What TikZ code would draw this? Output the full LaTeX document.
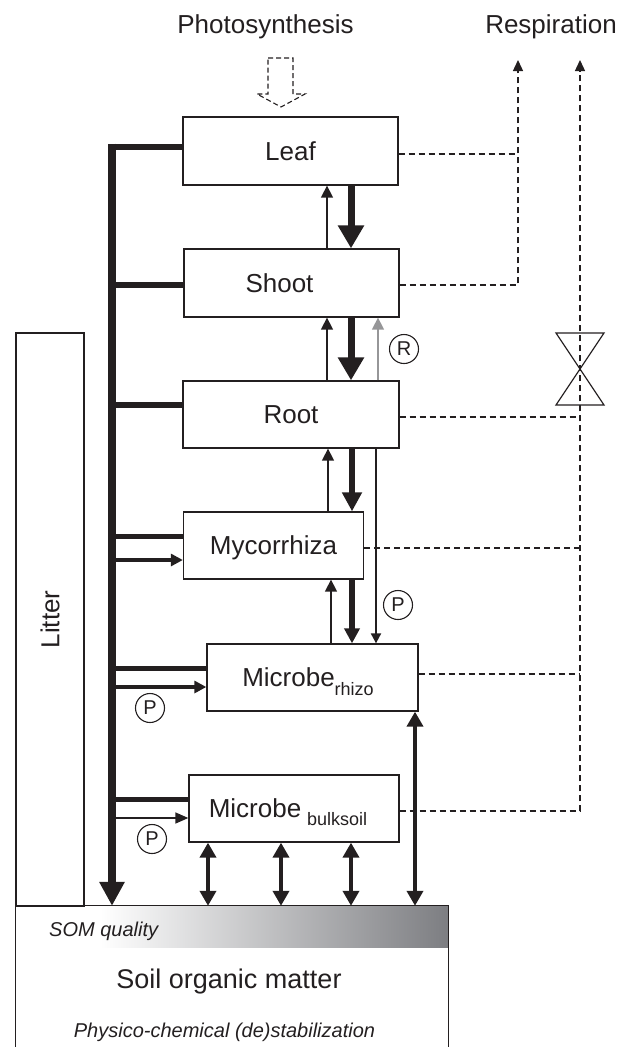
\documentclass[tikz,border=0pt]{standalone}
\usepackage{fontspec}
\setmainfont{Liberation Sans}
\usetikzlibrary{arrows.meta}
\definecolor{ink}{RGB}{35,31,32}
\definecolor{somgray}{RGB}{125,126,130}
\definecolor{rgray}{RGB}{150,150,152}
\begin{document}
\begin{tikzpicture}[x=1pt,y=-1pt,
  box/.style={draw=ink,line width=1.3pt,inner sep=0pt,text height=18.7pt,text depth=0pt,font=\fontsize{26}{30}\selectfont,text=ink},
  txt/.style={inner sep=0pt,font=\fontsize{26}{30}\selectfont,text=ink},
  itxt/.style={inner sep=0pt,font=\itshape\fontsize{20}{24}\selectfont,text=ink},
  circ/.style={circle,draw=ink,line width=1.1pt,minimum size=29pt,inner sep=0pt,font=\fontsize{20}{24}\selectfont,text=ink},
  boxline/.style={draw=ink,line width=1.3pt},
  dashline/.style={draw=ink,line width=1.3pt,dash pattern=on 6pt off 4pt},
  resptip/.style={-{Triangle[length=11pt,width=10pt]}},
  trunkline/.style={draw=ink,line width=7.5pt,-{Triangle[length=24pt,width=24pt]}},
  branch/.style={draw=ink,line width=6.5pt},
  subbranch/.style={draw=ink,line width=5pt},
  feed/.style={draw=ink,line width=3.2pt,-{Triangle[length=12pt,width=12pt]}},
  thinfeed/.style={draw=ink,line width=1.5pt,-{Triangle[length=13pt,width=11pt]}},
  bigdown/.style={draw=ink,line width=7pt,-{Triangle[length=23pt,width=25pt]}},
  middown/.style={draw=ink,line width=6pt,-{Triangle[length=19pt,width=19pt]}},
  smalldown/.style={draw=ink,line width=5.5pt,-{Triangle[length=15pt,width=15pt]}},
  thinup/.style={draw=ink,line width=1.5pt,-{Triangle[length=12pt,width=12pt]}},
  grayup/.style={draw=rgray,line width=1.5pt,-{Triangle[length=12pt,width=12pt]}},
  pdown/.style={draw=ink,line width=2pt,-{Triangle[length=10pt,width=10pt]}},
  dbl/.style={draw=ink,line width=4pt,{Triangle[length=15pt,width=16pt]}-{Triangle[length=15pt,width=16pt]}}
]
\useasboundingbox (0,0) rectangle (629,1047);

% titles
\node[txt,anchor=base] (photo) at (265.5,33) {Photosynthesis};
\node[txt,anchor=base] (resp) at (551,33) {Respiration};

% photosynthesis hollow dashed arrow
\draw[draw=ink,line width=1.1pt,dash pattern=on 5pt off 3pt]
  (268,58) -- (293,58) -- (293,94) -- (305,94) -- (281,107) -- (257,94) -- (268,94) -- cycle;

% boxes
\node[box,minimum width=215pt,minimum height=68pt] (leaf) at (290.5,151) {Leaf};
\node[box,minimum width=215pt,minimum height=68pt] (shoot) at (291.5,283) {\hspace*{-24pt}Shoot};
\node[box,minimum width=216pt,minimum height=67pt] (root) at (291,414.5) {Root};
\node[box,minimum width=180pt,minimum height=67pt] (myco) at (273.5,545.5) {Mycorrhiza};
\node[box,minimum width=211pt,minimum height=67pt] (rhizo) at (312.5,677.5) {\hspace*{-9pt}Microbe\raisebox{-9pt}{\fontsize{18}{20}\selectfont rhizo}};
\node[box,minimum width=210pt,minimum height=67pt] (bulk) at (294,808.5) {\hspace*{-12pt}Microbe\hspace{6pt}\raisebox{-8pt}{\fontsize{18}{20}\selectfont bulksoil}};
\node[box,rotate=90,minimum width=573pt,minimum height=68pt] (litter) at (50,619.5) {Litter};

% soil organic matter
\node[inner sep=0pt,minimum width=432pt,minimum height=141pt] (som) at (232,976.5) {};
\shade[left color=white,right color=somgray] (100,906) rectangle (448,947);
\draw[boxline] (som.south west) -- (som.north west) -- (som.north east) -- (som.south east);
\node[itxt,anchor=base west] (somq) at (49,936) {SOM quality};
\node[txt,anchor=base,font=\fontsize{27}{30}\selectfont] (somt) at (229,988) {Soil organic matter};
\node[itxt,anchor=base] (phys) at (224.5,1037) {Physico-chemical (de)stabilization};

% respiration
\coordinate (r1) at (518,60);
\coordinate (r2) at (580,60);
\coordinate (dLeaf) at ([yshift=-3pt]leaf.east);
\coordinate (dShoot) at ([yshift=-2pt]shoot.east);
\coordinate (dRoot) at ([yshift=-2.5pt]root.east);
\coordinate (dMyco) at ([yshift=-2.5pt]myco.east);
\coordinate (dRhizo) at ([yshift=3.5pt]rhizo.east);
\coordinate (dBulk) at ([yshift=-2.5pt]bulk.east);
\draw[dashline] (dLeaf) -- (dLeaf -| r1);
\draw[dashline,resptip] (dShoot) -| (r1);
\draw[dashline] (dRoot) -- (dRoot -| r2);
\draw[dashline] (dMyco) -- (dMyco -| r2);
\draw[dashline] (dRhizo) -- (dRhizo -| r2);
\draw[dashline,resptip] (dBulk) -| (r2);
\coordinate (valve) at (580,369);
\draw[draw=ink,line width=1.2pt] (556,333) -- (604,333) -- (556,405) -- (604,405) -- cycle;

% trunk and branches
\coordinate (trunk) at (112,0);
\coordinate (ttop) at (112,143.5);
\coordinate (bLeaf) at ([yshift=4pt]leaf.west);
\coordinate (bShoot) at ([yshift=-2pt]shoot.west);
\coordinate (bRoot) at ([yshift=9.5pt]root.west);
\coordinate (bMyco) at ([yshift=9.5pt]myco.west);
\coordinate (fMyco) at ([yshift=-14.5pt]myco.west);
\coordinate (bRhizo) at ([yshift=9.5pt]rhizo.west);
\coordinate (fRhizo) at ([yshift=-9.5pt]rhizo.west);
\coordinate (bBulk) at ([yshift=9.5pt]bulk.west);
\coordinate (fBulk) at ([yshift=-9.5pt]bulk.west);
\draw[branch] (bLeaf -| trunk) -- (bLeaf);
\draw[branch] (bShoot -| trunk) -- (bShoot);
\draw[branch] (bRoot -| trunk) -- (bRoot);
\draw[subbranch] (bMyco -| trunk) -- (bMyco);
\draw[feed] (fMyco -| trunk) -- (fMyco);
\draw[subbranch] (bRhizo -| trunk) -- (bRhizo);
\draw[feed] (fRhizo -| trunk) -- (fRhizo);
\draw[subbranch] (bBulk -| trunk) -- (bBulk);
\draw[thinfeed] (fBulk -| trunk) -- (fBulk);
\draw[trunkline] (ttop) -- (ttop |- som.north);

% vertical fluxes between compartments
\coordinate (xa) at (327,0);
\coordinate (xb) at (351,0);
\coordinate (xc) at (378,0);
\coordinate (xd) at (328,0);
\coordinate (xe) at (352,0);
\coordinate (xp) at (376,0);
\coordinate (xf) at (331,0);
\draw[thinup] (shoot.north -| xa) -- (leaf.south -| xa);
\draw[bigdown] (leaf.south -| xb) -- (shoot.north -| xb);
\draw[thinup] (root.north -| xa) -- (shoot.south -| xa);
\draw[bigdown] (shoot.south -| xb) -- (root.north -| xb);
\draw[grayup] (root.north -| xc) -- (shoot.south -| xc);
\draw[thinup] (myco.north -| xd) -- (root.south -| xd);
\draw[middown] (root.south -| xe) -- (myco.north -| xe);
\draw[pdown] (root.south -| xp) -- (rhizo.north -| xp);
\draw[thinup] (rhizo.north -| xf) -- (myco.south -| xf);
\draw[smalldown] (myco.south -| xe) -- (rhizo.north -| xe);

% exchanges with soil organic matter
\coordinate (s1) at (208,0);
\coordinate (s2) at (281,0);
\coordinate (s3) at (351,0);
\coordinate (s4) at (415,0);
\draw[dbl] (bulk.south -| s1) -- (som.north -| s1);
\draw[dbl] (bulk.south -| s2) -- (som.north -| s2);
\draw[dbl] (bulk.south -| s3) -- (som.north -| s3);
\draw[dbl] (rhizo.south -| s4) -- (som.north -| s4);

% regulation labels
\node[circ] (R) at (404,349) {R};
\node[circ] (P1) at (398,605) {P};
\node[circ] (P2) at (150,708) {P};
\node[circ] (P3) at (152,839) {P};
\end{tikzpicture}
\end{document}
